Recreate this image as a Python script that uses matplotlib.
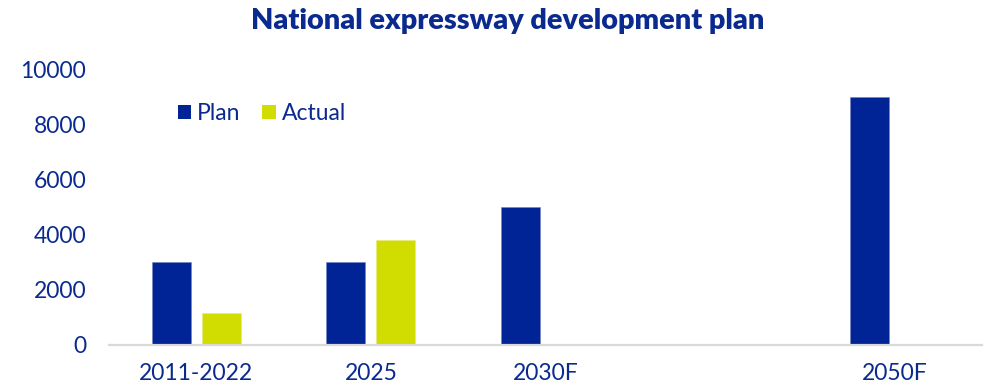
import matplotlib
matplotlib.use("Agg")
import matplotlib.pyplot as plt
from matplotlib.patches import Patch
import numpy as np

# expressway length by period (km)
categories = ['2011-2022', '2025', '2030F', '', '2050F']
plan = [3000, 3000, 5000, np.nan, 9000]
actual = [1150, 3800, np.nan, np.nan, np.nan]

NAVY = '#002395'
LIME = '#D1DC00'
TEXT = '#0B2A8F'

plt.rcParams['font.family'] = ['Lato', 'DejaVu Sans']

fig = plt.figure(figsize=(9.87, 3.9), dpi=100)
ax = fig.add_axes([109 / 987, 1 - 344.5 / 390, 873 / 987, (344.5 - 70) / 390])

x = np.arange(len(categories))
w = 0.2235
ax.bar(x - 0.143, plan, w, color=NAVY, edgecolor='#6f84c4', linewidth=0.4)
ax.bar(x + 0.143, actual, w, color=LIME, edgecolor='#e4ea80', linewidth=0.4)

ax.set_xlim(-0.5, len(categories) - 0.5)
ax.set_ylim(0, 10000)
ax.set_yticks(range(0, 10001, 2000))
ax.set_xticks(x)
ax.set_xticklabels(categories)

for s in ['top', 'right', 'left']:
    ax.spines[s].set_visible(False)
ax.spines['bottom'].set_color('#D9D9D9')
ax.spines['bottom'].set_linewidth(1.6)
ax.tick_params(axis='both', length=0, labelsize=16.5, labelcolor=TEXT)
ax.tick_params(axis='y', pad=16.5)
ax.tick_params(axis='x', pad=13.5)

handles = [Patch(facecolor=NAVY, label='Plan'), Patch(facecolor=LIME, label='Actual')]
fig.legend(handles=handles, loc='center left', bbox_to_anchor=(177.7 / 987, 1 - 114 / 390),
           ncol=2, frameon=False, fontsize=16.5, labelcolor=TEXT, borderpad=0,
           handlelength=0.57, handleheight=0.57, handletextpad=0.28, columnspacing=0.95,
           borderaxespad=0)

fig.text(508 / 987, 1 - 21 / 390, 'National expressway development plan', ha='center', va='center',
         fontsize=20.8, fontweight='heavy', color=TEXT)

fig.savefig('out.png', dpi=100)
